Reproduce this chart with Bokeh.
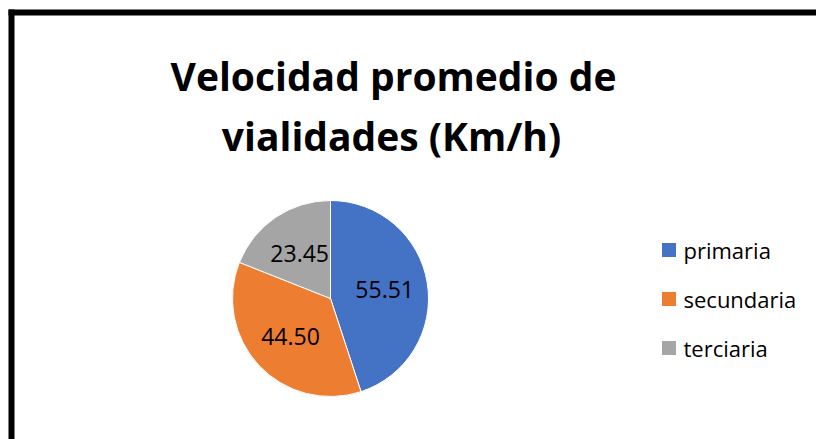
import numpy as np
from bokeh.plotting import figure
from bokeh.models import Range1d, ColumnDataSource
from bokeh.core.properties import value
from bokeh.embed import file_html
from bokeh.resources import INLINE

# ---- data ----
categories = ["primaria", "secundaria", "terciaria"]
speeds = [55.51, 44.50, 23.45]
labels = ["55.51", "44.50", "23.45"]
colors = ["#4472C4", "#ED7D31", "#A5A5A5"]
title_lines = ["Velocidad promedio de", "vialidades (Km/h)"]

W, H = 816, 439
p = figure(width=W, height=H, output_backend="svg", toolbar_location=None,
           x_range=Range1d(0, W), y_range=Range1d(0, H),
           min_border=0, outline_line_color=None, background_fill_color="white",
           border_fill_color="white")
p.axis.visible = False
p.grid.visible = False

def sy(y):  # screen y -> data y
    return H - y

# frame border (only left/top visible)
p.segment(x0=[11, 8], y0=[0, sy(12)], x1=[11, W], y1=[sy(9), sy(12)],
          line_color="black", line_width=6, line_cap="butt")

# title
p.text(x=[393, 391], y=[sy(75), sy(135)], text=title_lines,
       text_font=value("Open Sans"), text_font_style="bold", text_font_size="39px",
       text_align="center", text_baseline="alphabetic", text_color="black")

# pie
vals = np.array(speeds)
frac = vals / vals.sum()
cum = np.concatenate([[0], np.cumsum(frac)])
start = np.pi / 2 - 2 * np.pi * cum[:-1]
end = np.pi / 2 - 2 * np.pi * cum[1:]
cx, cy, r = 330, sy(298), 98
src = ColumnDataSource(dict(start=start, end=end, color=colors, cat=categories))
p.wedge(x=cx, y=cy, radius=r, start_angle="start", end_angle="end", direction="clock",
        fill_color="color", line_color="white", line_width=1, source=src)

mid = (start + end) / 2
lx = cx + 0.56 * r * np.cos(mid)
ly = cy + 0.56 * r * np.sin(mid)
p.text(x=lx, y=ly, text=labels, text_font=value("Open Sans"), text_font_size="23px",
       text_align="center", text_baseline="middle", text_color="black")

# legend (manual)
n = len(categories)
leg_y = np.array([sy(249.5 + 49 * i) for i in range(n)])
p.rect(x=[668.5] * n, y=leg_y, width=14, height=14, fill_color=colors, line_color=None)
p.text(x=[683] * n, y=leg_y, text=categories, text_font=value("Open Sans"),
       text_font_size="22px", text_align="left", text_baseline="middle", text_color="black")

open("out.html", "w").write(file_html(p, INLINE))
